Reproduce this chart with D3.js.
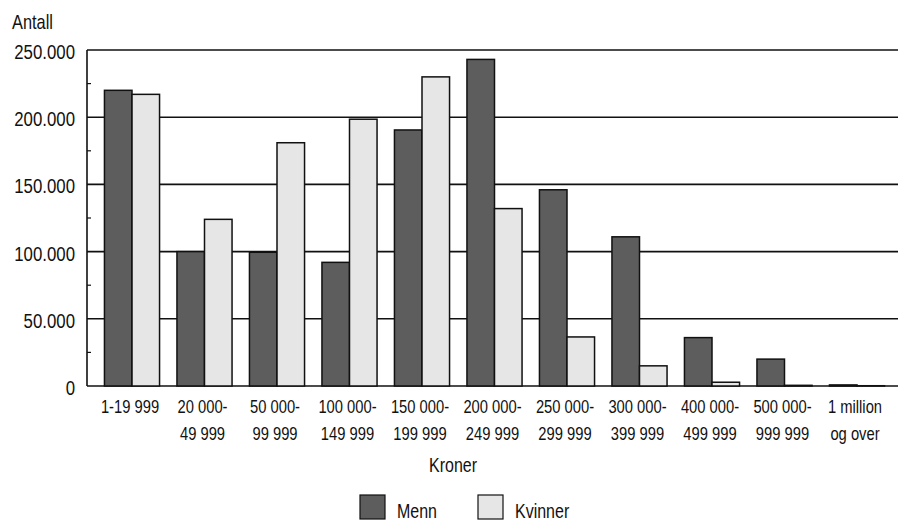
<!DOCTYPE html>
<html lang="no">
<head>
<meta charset="UTF-8">
<title>Antall etter inntekt</title>
<script src="https://cdn.jsdelivr.net/npm/d3@7"></script>
<style>
    body{ margin:0; background:#fff; }
    svg text{ font-family:"Liberation Sans",Arial,sans-serif; fill:#111; }
</style>
</head>
<body>
<svg id="chart" width="898" height="521"></svg>
<script>
// data
let kategorier = [
    ["1-19 999"], ["20 000-", "49 999"], ["50 000-", "99 999"], ["100 000-", "149 999"],
    ["150 000-", "199 999"], ["200 000-", "249 999"], ["250 000-", "299 999"],
    ["300 000-", "399 999"], ["400 000-", "499 999"], ["500 000-", "999 999"],
    ["1 million", "og over"]
]
let menn    = [220000, 100000, 99500, 92000, 190500, 243000, 146000, 111000, 36000, 20000, 800]
let kvinner = [217000, 124000, 181000, 198500, 230000, 132000, 36500, 15000, 2800, 500, 200]
let serier = ["Menn", "Kvinner"]
let farger = {Menn: "#5d5d5d", Kvinner: "#e6e6e6"}
let yTicks = [0, 50000, 100000, 150000, 200000, 250000]

let svg = d3.select("#chart")
let mLeft = 87, mTop = 50, mBottom = 386
let smal = 0.82   // narrow the text horizontally, the original uses a condensed face

// place a text at x,y squeezed horizontally
function pos(x, y) {
    return "translate(" + x + "," + y + ") scale(" + smal + ",1)"
}

let ids = kategorier.map((d, i) => i)
let x0 = d3.scaleBand().domain(ids).range([95.75, 893.25])
let x1 = d3.scaleBand().domain(serier)
    .range([x0.bandwidth() * 0.12, x0.bandwidth() * 0.88])
let y = d3.scaleLinear().domain([0, 250000]).range([mBottom, mTop])

let fmt = d3.formatLocale({decimal: ",", thousands: ".", grouping: [3], currency: ["", ""]}).format(",")

// gridlines
svg.append("g").selectAll("line")
    .data(yTicks)
    .enter().append("line")
    .attr("x1", mLeft).attr("x2", 898)
    .attr("y1", d => y(d)).attr("y2", d => y(d))
    .attr("stroke", "#111").attr("stroke-width", 1.6)

// small ticks between gridlines
svg.append("g").selectAll("line")
    .data(d3.range(25000, 250000, 50000))
    .enter().append("line")
    .attr("x1", mLeft).attr("x2", mLeft + 4)
    .attr("y1", d => y(d)).attr("y2", d => y(d))
    .attr("stroke", "#111").attr("stroke-width", 1.2)

// y labels
svg.append("g").selectAll("text")
    .data(yTicks)
    .enter().append("text")
    .attr("transform", d => pos(75, y(d) + 9))
    .attr("text-anchor", "end")
    .style("font-size", "20.5px")
    .text(d => fmt(d))

// bars
let grupper = svg.append("g").selectAll("g")
    .data(ids)
    .enter().append("g")
    .attr("transform", i => "translate(" + x0(i) + ",0)")

grupper.selectAll("rect")
    .data(i => [{s: "Menn", v: menn[i]}, {s: "Kvinner", v: kvinner[i]}])
    .enter().append("rect")
    .attr("x", d => x1(d.s))
    .attr("width", x1.bandwidth())
    .attr("y", d => y(d.v))
    .attr("height", d => mBottom - y(d.v))
    .attr("fill", d => farger[d.s])
    .attr("stroke", "#111").attr("stroke-width", 1.5)

// y axis line
svg.append("line")
    .attr("x1", mLeft).attr("x2", mLeft)
    .attr("y1", mTop).attr("y2", mBottom)
    .attr("stroke", "#111").attr("stroke-width", 1.6)

// category labels
let lab = svg.append("g").selectAll("text")
    .data(ids)
    .enter().append("text")
    .attr("transform", i => pos(x0(i) + x0.bandwidth() / 2 - 2, 413))
    .attr("text-anchor", "middle")
    .style("font-size", "18px")
lab.selectAll("tspan")
    .data(i => kategorier[i].map((t, k) => ({t: t, k: k})))
    .enter().append("tspan")
    .attr("x", 0)
    .attr("y", d => d.k * 27)
    .text(d => d.t)

svg.append("text")
    .attr("transform", pos(12, 29))
    .style("font-size", "20px")
    .text("Antall")

svg.append("text")
    .attr("transform", pos(453, 472))
    .attr("text-anchor", "middle")
    .style("font-size", "19.5px")
    .text("Kroner")

// legend
let leg = svg.append("g").selectAll("g")
    .data(serier)
    .enter().append("g")
    .attr("transform", (d, i) => "translate(" + (360 + i * 118) + ",495)")
leg.append("rect")
    .attr("width", 25).attr("height", 24)
    .attr("fill", d => farger[d])
    .attr("stroke", "#111").attr("stroke-width", 1.2)
leg.append("text")
    .attr("transform", pos(37, 23))
    .style("font-size", "19.5px")
    .text(d => d)
</script>
</body>
</html>
